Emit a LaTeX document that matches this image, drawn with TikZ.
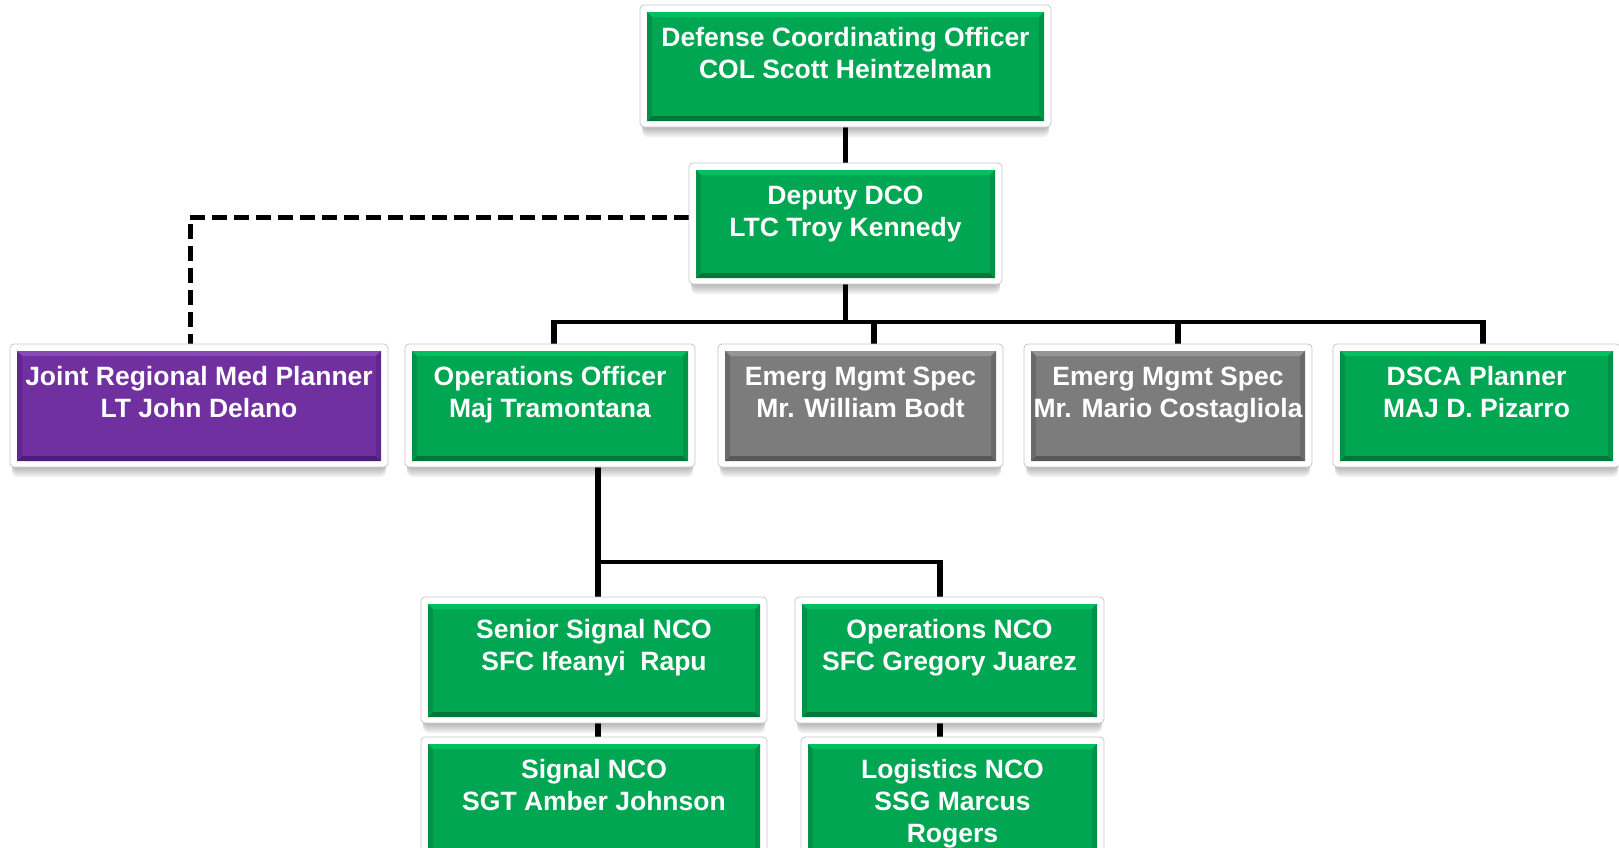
\documentclass[tikz,border=0pt]{standalone}
\usepackage{fontspec}
\setmainfont{Liberation Sans}
\usetikzlibrary{calc}
\pgfdeclarelayer{bg}
\pgfsetlayers{bg,main}
\definecolor{grBase}{RGB}{0,166,81}
\definecolor{grLight}{RGB}{0,192,96}
\definecolor{grDark}{RGB}{0,118,56}
\definecolor{grSide}{RGB}{0,146,70}
\definecolor{puBase}{RGB}{112,48,160}
\definecolor{puLight}{RGB}{136,72,182}
\definecolor{puDark}{RGB}{78,30,118}
\definecolor{puSide}{RGB}{96,40,140}
\definecolor{gyBase}{RGB}{124,124,124}
\definecolor{gyLight}{RGB}{150,150,150}
\definecolor{gyDark}{RGB}{88,88,88}
\definecolor{gySide}{RGB}{106,106,106}
\definecolor{frameLine}{RGB}{200,200,200}
\tikzset{
  frame/.style={draw=frameLine, fill=white, rounded corners=4pt, line width=0.8pt, inner sep=0pt, outer sep=0pt},
  txt/.style={text=white, font=\bfseries\fontsize{26.5}{32}\selectfont, align=center, inner sep=0pt},
  vl/.style={line width=5.5pt, black},
  hl/.style={line width=3.8pt, black},
  dashline/.style={line width=5pt, black, dash pattern=on 15pt off 7pt}
}
% name, x1, y1, x2, y2, colour prefix, text
\newcommand\orgbox[7]{%
  \foreach \s in {2,4,6,8,10}{\fill[black,opacity=0.06,rounded corners=6pt] ({#2+2},{#3+\s}) rectangle ({#4-2},{#5+\s});}
  \node[frame, minimum width={(#4-#2)*1pt}, minimum height={(#5-#3)*1pt}] (#1) at ({(#2+#4)/2},{(#3+#5)/2}) {};
  \fill[#6Base] ({#2+7},{#3+7}) rectangle ({#4-7},{#5-6});
  \fill[#6Light] ({#2+7},{#3+7}) -- ({#4-7},{#3+7}) -- ({#4-12},{#3+12}) -- ({#2+12},{#3+12}) -- cycle;
  \fill[#6Dark] ({#2+7},{#5-6}) -- ({#4-7},{#5-6}) -- ({#4-12},{#5-11}) -- ({#2+12},{#5-11}) -- cycle;
  \fill[#6Side] ({#2+7},{#3+7}) -- ({#2+12},{#3+12}) -- ({#2+12},{#5-11}) -- ({#2+7},{#5-6}) -- cycle;
  \fill[#6Side] ({#4-7},{#3+7}) -- ({#4-12},{#3+12}) -- ({#4-12},{#5-11}) -- ({#4-7},{#5-6}) -- cycle;
  \node[txt, anchor=north] (#1-t) at ({(#2+#4)/2},{#3+19}) {\rule{0pt}{22pt}#7};
}
\begin{document}
\begin{tikzpicture}[x=1pt,y=-1pt]
\useasboundingbox (0,0) rectangle (1619,847);
\clip (0,0) rectangle (1619,847);

\orgbox{dco}{640}{5}{1051}{127}{gr}{Defense Coordinating Officer\\COL Scott Heintzelman}
\orgbox{ddco}{689}{163}{1002}{284}{gr}{Deputy DCO\\LTC Troy Kennedy}
\orgbox{jrmp}{10}{344}{388}{467}{pu}{Joint Regional Med Planner\\LT John Delano}
\orgbox{ops}{405}{344}{695}{467}{gr}{Operations Officer\\Maj Tramontana}
\orgbox{bodt}{718}{344}{1003}{467}{gy}{Emerg Mgmt Spec\\Mr. William Bodt}
\orgbox{cost}{1024}{344}{1312}{467}{gy}{Emerg Mgmt Spec\\Mr. Mario Costagliola}
\orgbox{dsca}{1333}{344}{1620}{467}{gr}{DSCA Planner\\MAJ D. Pizarro}
\orgbox{ssn}{421}{597}{767}{723}{gr}{Senior Signal NCO\\SFC Ifeanyi~~Rapu}
\orgbox{onco}{795}{597}{1104}{723}{gr}{Operations NCO\\SFC Gregory Juarez}
\orgbox{snco}{421}{737}{767}{863}{gr}{Signal NCO\\SGT Amber Johnson}
\orgbox{lnco}{801}{737}{1104}{863}{gr}{Logistics NCO\\SSG Marcus\\Rogers}

\coordinate (busL) at (554,322);
\coordinate (busR) at (1483,322);
\coordinate (dBodt) at (874,322);
\coordinate (dCost) at (1178,322);
\coordinate (medTop) at (190,344);
\coordinate (opsL) at (598,562);
\coordinate (opsR) at (940,562);

\begin{pgfonlayer}{bg}
\fill[white] (0,0) rectangle (1619,847);
\draw[vl] (dco.south) -- (ddco.north);
\draw[vl] (ddco.south) -- (ddco.south |- busL);
\draw[hl] (busL) -- (busR);
\draw[vl] ([yshift=1.9pt]busL) -- (busL |- ops.north);
\draw[vl] ([yshift=1.9pt]busR) -- (busR |- dsca.north);
\draw[vl] (dBodt) -- (dBodt |- bodt.north);
\draw[vl] (dCost) -- (dCost |- cost.north);
\draw[dashline] ([yshift=6.5pt]ddco.west) -| (medTop);
\draw[vl] (opsL |- ops.south) -- (opsL);
\draw[hl] ([xshift=-2pt]opsL) -- ([xshift=2pt]opsR);
\draw[vl] ([yshift=1.9pt]opsR) -- (opsR |- onco.north);
\draw[vl] (opsL) -- (opsL |- ssn.north);
\draw[vl] (opsL |- ssn.south) -- (opsL |- snco.north);
\draw[vl] (opsR |- onco.south) -- (opsR |- lnco.north);
\end{pgfonlayer}
\end{tikzpicture}
\end{document}
